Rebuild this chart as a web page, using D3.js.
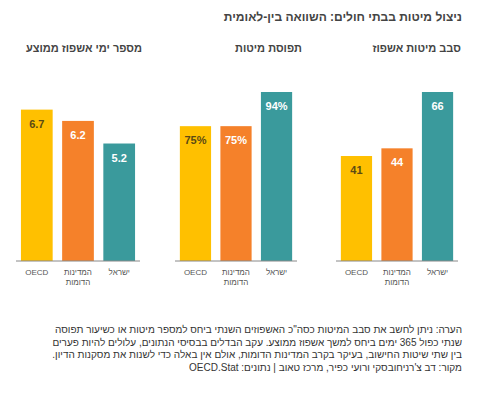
<!DOCTYPE html>
<html><head><meta charset="utf-8">
<script src="https://cdn.jsdelivr.net/npm/d3@7/dist/d3.min.js"></script>
<style>body{margin:0;background:#fff;}svg{display:block;font-family:"Liberation Sans",Arial,sans-serif;}</style>
</head><body>
<svg id="c" width="482" height="398"></svg>
<script>
const categories = ["OECD", "המדינות הדומות", "ישראל"];
const categoryLines = [["OECD"], ["המדינות", "הדומות"], ["ישראל"]];
const panelTitles = ["סבב מיטות אשפוז", "תפוסת מיטות", "מספר ימי אשפוז ממוצע"];
const turnover = [41, 44, 66];
const occupancy = [75, 75, 94];
const avgStay = [6.7, 6.2, 5.2];
const valueLabels = [["41","44","66"],["75%","75%","94%"],["6.7","6.2","5.2"]];
const domainMax = [66, 94, 7.48];
const title = "ניצול מיטות בבתי חולים: השוואה בין-לאומית";
const noteLines = [
 "הערה: ניתן לחשב את סבב המיטות כסה\"כ האשפוזים השנתי ביחס למספר מיטות או כשיעור תפוסה",
 "שנתי כפול 365 ימים ביחס למשך אשפוז ממוצע. עקב הבדלים בבסיסי הנתונים, עלולים להיות פערים",
 "בין שתי שיטות החישוב, בעיקר בקרב המדינות הדומות, אולם אין באלה כדי לשנות את מסקנות הדיון.",
 "מקור: דב צ'רניחובסקי ורועי כפיר, מרכז טאוב | נתונים: OECD.Stat"
];
const colors = ["#FFC000", "#F5812A", "#3A9A9C"];
const labelColors = ["#5b4a14", "#ffffff", "#ffffff"];

const svg = d3.select("#c");
const seriesList = [turnover, occupancy, avgStay];
const panelRanges = [[336, 458], [175, 297], [16, 140]];
const panelTitleX = [461, 302, 142];
const baseY = 261, topY = 92;

svg.append("text").attr("x", 462).attr("y", 21)
  .attr("direction","rtl").attr("text-anchor","start")
  .attr("font-size", 12).attr("font-weight","bold").attr("fill","#444").text(title);

seriesList.forEach((vals, p) => {
  const g = svg.append("g");
  const x = d3.scaleBand().domain(categories).range(panelRanges[p]).paddingInner(0.23).paddingOuter(0.12);
  const y = d3.scaleLinear().domain([0, domainMax[p]]).range([baseY, topY]);
  g.append("text").attr("x", panelTitleX[p]).attr("y", 52)
    .attr("direction","rtl").attr("text-anchor","start")
    .attr("font-size", 11).attr("font-weight","bold").attr("fill","#444").text(panelTitles[p]);
  g.selectAll("rect").data(vals).join("rect")
    .attr("x", (d,i) => x(categories[i])).attr("width", x.bandwidth())
    .attr("y", d => y(d)).attr("height", d => baseY - y(d))
    .attr("fill", (d,i) => colors[i]);
  g.selectAll("text.val").data(vals).join("text").attr("class","val")
    .attr("x", (d,i) => x(categories[i]) + x.bandwidth()/2).attr("y", d => y(d) + 18)
    .attr("text-anchor","middle").attr("font-size", 11).attr("font-weight","bold")
    .attr("fill", (d,i) => labelColors[i]).text((d,i) => valueLabels[p][i]);
  const ax = g.append("g").attr("transform", `translate(0,${baseY})`)
    .call(d3.axisBottom(x).tickSize(0).tickFormat(""));
  ax.select(".domain").attr("stroke", "#888").attr("d", `M${panelRanges[p][0]},0H${panelRanges[p][1]}`);
  categoryLines.forEach((lines, i) => {
    const t = g.append("text").attr("text-anchor","middle").attr("font-size", 8).attr("fill","#555")
      .attr("direction","rtl");
    lines.forEach((ln, j) => t.append("tspan").attr("x", x(categories[i]) + x.bandwidth()/2)
      .attr("y", 275 + j*10).text(ln));
  });
});

noteLines.forEach((ln, i) => {
  svg.append("text").attr("x", 462).attr("y", 333 + i*12.5)
    .attr("direction","rtl").attr("text-anchor","start")
    .attr("font-size", 10).attr("fill","#333").text(ln);
});
</script>
</body></html>
